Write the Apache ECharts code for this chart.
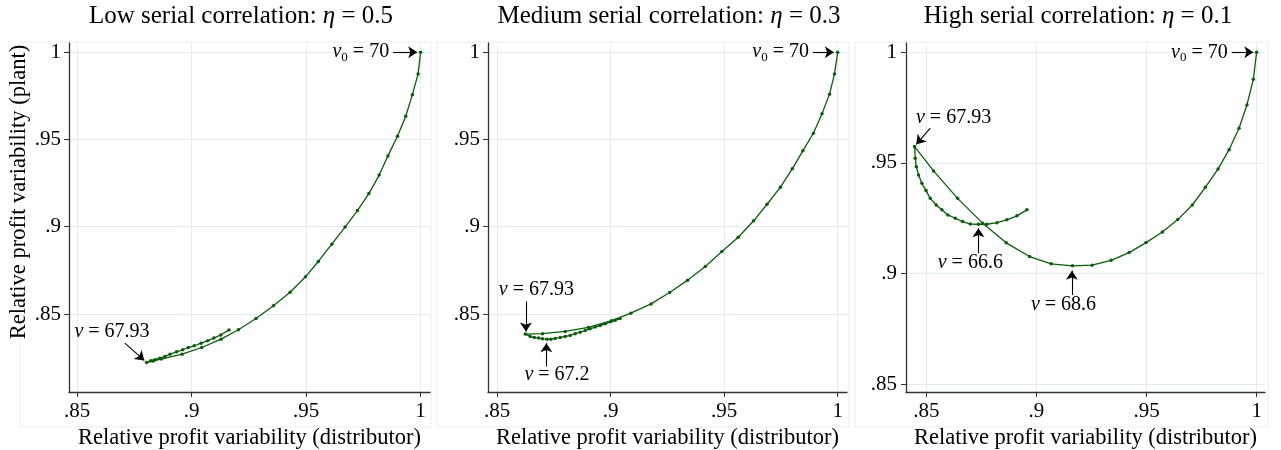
<!DOCTYPE html>
<html>
<head>
<meta charset="utf-8">
<script src="https://cdn.jsdelivr.net/npm/echarts@6/dist/echarts.min.js"></script>
<style>
  html, body { margin: 0; padding: 0; background: #fff; }
  #chart { width: 1281px; height: 450px; }
</style>
</head>
<body>
<div id="chart"></div>
<script type="text/javascript">
// data: x = distributor, y = plant (relative profit variability)
var lowX = [1, 0.9989, 0.9964, 0.9935, 0.9899, 0.9857, 0.9819, 0.9774, 0.9724, 0.967, 0.9612, 0.9553, 0.9497, 0.943, 0.9357, 0.9281, 0.9204, 0.9128, 0.9044, 0.8958, 0.8867, 0.8832, 0.8803,
            0.8821, 0.884, 0.8861, 0.8883, 0.8905, 0.8934, 0.8961, 0.8985, 0.9011, 0.9041, 0.907, 0.9097, 0.9127, 0.9163];
var lowY = [1, 0.9876, 0.9757, 0.9633, 0.9519, 0.9406, 0.9296, 0.919, 0.9093, 0.8998, 0.89, 0.8801, 0.8713, 0.8625, 0.8547, 0.8474, 0.841, 0.8356, 0.8308, 0.827, 0.8242, 0.8231, 0.8222,
            0.8232, 0.8238, 0.8247, 0.8257, 0.827, 0.8283, 0.8295, 0.8308, 0.8318, 0.8333, 0.8347, 0.8362, 0.838, 0.8409];

var medX = [1, 0.9986, 0.9964, 0.9931, 0.9893, 0.9847, 0.98, 0.9748, 0.9689, 0.963, 0.9562, 0.949, 0.9417, 0.9339, 0.926, 0.9178, 0.9089, 0.9005, 0.8902, 0.88, 0.87, 0.8624,
            0.8646, 0.8664, 0.8683, 0.87, 0.872, 0.8737, 0.8756, 0.8778, 0.88, 0.8822, 0.8844, 0.8866, 0.8888, 0.891, 0.8932, 0.8954, 0.8976, 0.9, 0.902, 0.9042];
var medY = [1, 0.9876, 0.976, 0.9647, 0.9536, 0.9436, 0.9332, 0.9227, 0.9129, 0.9034, 0.894, 0.8858, 0.8772, 0.8694, 0.8623, 0.8558, 0.8505, 0.8462, 0.8423, 0.84, 0.8387, 0.8385,
            0.8371, 0.8366, 0.8362, 0.8358, 0.8356, 0.8356, 0.836, 0.8366, 0.8371, 0.8377, 0.8387, 0.8396, 0.8405, 0.8415, 0.8425, 0.8434, 0.8444, 0.8455, 0.8464, 0.8474];

var highX = [1, 0.9985, 0.9956, 0.992, 0.9875, 0.9825, 0.9767, 0.9708, 0.9642, 0.9572, 0.9498, 0.9421, 0.9339, 0.9253, 0.9164, 0.9067, 0.8969, 0.8863, 0.8756, 0.8642, 0.8533, 0.8447,
             0.845, 0.8455, 0.8465, 0.848, 0.8499, 0.8518, 0.8545, 0.8571, 0.8598, 0.8632, 0.8665, 0.87, 0.8737, 0.8775, 0.8821, 0.8866, 0.8912, 0.8957];
var highY = [1, 0.9878, 0.9762, 0.9657, 0.956, 0.9473, 0.939, 0.931, 0.9244, 0.9188, 0.914, 0.9095, 0.906, 0.9038, 0.9035, 0.9044, 0.9077, 0.9139, 0.9228, 0.934, 0.9464, 0.9574,
             0.9521, 0.9483, 0.9446, 0.9408, 0.9375, 0.934, 0.931, 0.9288, 0.9265, 0.925, 0.9235, 0.9224, 0.9223, 0.9223, 0.923, 0.9243, 0.9261, 0.9288];

var tickVals = [0.85, 0.9, 0.95, 1];
var titles = ['Low serial correlation: ', 'Medium serial correlation: ', 'High serial correlation: '];
var etas = ['0.5', '0.3', '0.1'];

var green = '#0b5d0b';
var font = 'Liberation Serif';

function pairs(xs, ys) {
    var res = [];
    for (var i = 0; i < xs.length; i++) res.push([xs[i], ys[i]]);
    return res;
}
function fmt(v) {
    return v === 1 ? '1' : String(+v.toFixed(2)).replace(/^0/, '');
}

var rich = {
    i: { fontStyle: 'italic', fontFamily: font, fontSize: 20, color: '#000' },
    s: { fontFamily: font, fontSize: 13, color: '#000', padding: [10, 0, 0, 0] },
    n: { fontFamily: font, fontSize: 20, color: '#000' }
};

// annotation placements (data coords)
var notes = [
    {
        v0: [0.988, 1, 0.9985],
        labels: [{ at: [0.8652, 0.8398], text: '{i|v}{n| = 67.93}' }],
        arrows: [[[0.8708, 0.8333], [0.8793, 0.8234]]]
    },
    {
        v0: [0.9891, 1, 0.9983],
        labels: [
            { at: [0.8673, 0.8639], text: '{i|v}{n| = 67.93}' },
            { at: [0.8764, 0.8152], text: '{i|v}{n| = 67.2}' }
        ],
        arrows: [[[0.8627, 0.8572], [0.8627, 0.8400]], [[0.8717, 0.8200], [0.8717, 0.8333]]]
    },
    {
        v0: [0.9887, 1, 0.9985],
        labels: [
            { at: [0.8624, 0.9706], text: '{i|v}{n| = 67.93}' },
            { at: [0.8700, 0.9047], text: '{i|v}{n| = 66.6}' },
            { at: [0.9123, 0.8858], text: '{i|v}{n| = 68.6}' }
        ],
        arrows: [
            [[0.8518, 0.9657], [0.8455, 0.9584]],
            [[0.8737, 0.9092], [0.8737, 0.9205]],
            [[0.9161, 0.8903], [0.9161, 0.9013]]
        ]
    }
];

var grids = [
    { left: 69, top: 43, width: 361, height: 349, outerBoundsMode: 'none' },
    { left: 488, top: 43, width: 359, height: 349, outerBoundsMode: 'none' },
    { left: 906, top: 43, width: 359, height: 349, outerBoundsMode: 'none' }
];
var xRanges = [[0.8464, 1.0041], [0.8460, 1.0041], [0.8408, 1.0038]];
var yRanges = [[0.8053, 1.0053], [0.8053, 1.0053], [0.8465, 1.0042]];
var yLabelMargin = [8, 8, 9];
var panelData = [pairs(lowX, lowY), pairs(medX, medY), pairs(highX, highY)];

var xAxes = [], yAxes = [], series = [], graphics = [];
var boxes = [[20, 431], [437, 849], [855, 1268]];
var titleCenters = [241, 669, 1078];

for (var k = 0; k < 3; k++) {
    xAxes.push({
        type: 'value', gridIndex: k, min: xRanges[k][0], max: xRanges[k][1],
        name: 'Relative profit variability (distributor)',
        nameLocation: 'middle', nameGap: 32,
        nameTextStyle: { fontFamily: font, fontSize: 22.5, color: '#000' },
        axisLine: { show: true, onZero: false, lineStyle: { color: '#333', width: 1.3 } },
        axisTick: { show: true, length: 5, customValues: tickVals, lineStyle: { color: '#333' } },
        axisLabel: { customValues: tickVals, formatter: fmt, margin: 9, fontFamily: font, fontSize: 21, color: '#000' },
        splitLine: { show: true, lineStyle: { color: '#e2edf0', width: 1 } }
    });
    yAxes.push({
        type: 'value', gridIndex: k, min: yRanges[k][0], max: yRanges[k][1],
        axisLine: { show: true, onZero: false, lineStyle: { color: '#333', width: 1.3 } },
        axisTick: { show: true, length: 5, customValues: tickVals, lineStyle: { color: '#333' } },
        axisLabel: { customValues: tickVals, formatter: fmt, margin: yLabelMargin[k], fontFamily: font, fontSize: 21, color: '#000' },
        splitLine: { show: true, lineStyle: { color: '#e2edf0', width: 1 } }
    });

    var n = notes[k];
    var mpData = [{
        coord: [n.v0[0], n.v0[1]],
        label: { show: true, position: 'left', distance: 4, formatter: '{i|v}{s|0}{n| = 70}', rich: rich }
    }];
    n.labels.forEach(function (l) {
        mpData.push({ coord: l.at, label: { show: true, position: 'inside', formatter: l.text, rich: rich } });
    });
    var mlData = [[{ coord: [n.v0[0], n.v0[1]] }, { coord: [n.v0[2], n.v0[1]] }]];
    n.arrows.forEach(function (a) {
        mlData.push([{ coord: a[0] }, { coord: a[1] }]);
    });

    series.push({
        type: 'line', xAxisIndex: k, yAxisIndex: k,
        data: panelData[k],
        symbol: 'circle', symbolSize: 3.5, showSymbol: true,
        clip: false,
        lineStyle: { color: green, width: 1.3 },
        itemStyle: { color: green },
        markPoint: { symbol: 'circle', symbolSize: 0, silent: true, data: mpData, animation: false },
        markLine: {
            silent: true, symbol: ['none', 'arrow'], symbolSize: 9,
            lineStyle: { color: '#000', width: 1.1, type: 'solid' },
            itemStyle: { color: '#000' },
            label: { show: false }, data: mlData, animation: false
        }
    });

    graphics.push({
        type: 'rect', z: -10, silent: true,
        shape: { x: boxes[k][0], y: 42, width: boxes[k][1] - boxes[k][0], height: 385 },
        style: { fill: 'none', stroke: '#e6eef1', lineWidth: 1 }
    });
    graphics.push({
        type: 'text', x: titleCenters[k], y: 16, silent: true,
        style: {
            text: '{n|' + titles[k] + '}{e|η}{n| = ' + etas[k] + '}',
            align: 'center', verticalAlign: 'middle',
            rich: {
                n: { fontFamily: font, fontSize: 25, fill: '#000' },
                e: { fontFamily: font, fontSize: 25, fontStyle: 'italic', fill: '#000' }
            }
        }
    });
}

graphics.push({
    type: 'text', x: 19, y: 192, rotation: Math.PI / 2, silent: true,
    style: {
        text: 'Relative profit variability (plant)', fontFamily: font, fontSize: 22.5,
        fill: '#000', align: 'center', verticalAlign: 'middle'
    }
});

var myChart = echarts.init(document.getElementById('chart'));
myChart.setOption({
    backgroundColor: '#fff',
    animation: false,
    grid: grids,
    xAxis: xAxes,
    yAxis: yAxes,
    graphic: graphics,
    series: series
});
</script>
</body>
</html>
